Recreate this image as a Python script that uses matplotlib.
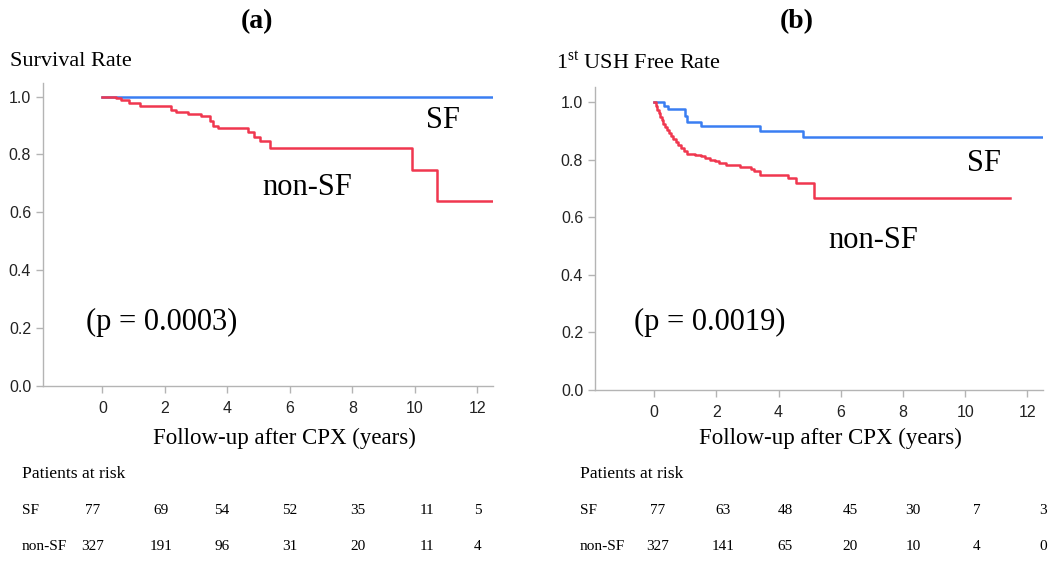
"""
Kaplan-Meier curves: SF vs non-SF, survival (a) and 1st USH free rate (b).
"""

import matplotlib
matplotlib.use("Agg")
import matplotlib.pyplot as plt

W, H = 1051, 561
SERIF = "Liberation Serif"
SANS = "Liberation Sans"
plt.rcParams["mathtext.fontset"] = "custom"
plt.rcParams["mathtext.rm"] = SERIF

BLUE = "#3A7EF2"
RED = "#F0374F"
GRAY = "#B4B4B4"

# ── data: panel (a) survival ─────────────────────────────────────────────────
a_sf_t = [0, 12.5]
a_sf_s = [1.0, 1.0]
a_non_t = [0, 0.45, 0.6, 0.85, 1.2, 2.2, 2.35, 2.75, 3.15, 3.45, 3.55, 3.7,
           4.65, 4.85, 5.05, 5.35, 9.9, 10.7, 12.5]
a_non_s = [1.0, 0.995, 0.987, 0.977, 0.968, 0.955, 0.947, 0.940, 0.933, 0.915,
           0.899, 0.891, 0.876, 0.862, 0.845, 0.822, 0.747, 0.640, 0.640]

# ── data: panel (b) 1st USH free ─────────────────────────────────────────────
b_sf_t = [0, 0.32, 0.45, 1.0, 1.05, 1.5, 3.4, 4.8, 12.5]
b_sf_s = [1.0, 0.987, 0.974, 0.952, 0.931, 0.916, 0.899, 0.879, 0.879]
b_non_t = [0, 0.05, 0.1, 0.15, 0.2, 0.25, 0.3, 0.35, 0.4, 0.47,
           0.55, 0.62, 0.7, 0.78, 0.87, 0.95, 1.05, 1.3, 1.5, 1.65,
           1.8, 1.95, 2.1, 2.3, 2.75, 3.1, 3.2, 3.4, 4.3, 4.55,
           5.15, 11.45]
b_non_s = [1.0, 0.985, 0.972, 0.96, 0.948, 0.936, 0.925, 0.914, 0.904, 0.893,
           0.882, 0.872, 0.861, 0.851, 0.840, 0.830, 0.821, 0.816, 0.812, 0.806,
           0.800, 0.794, 0.788, 0.780, 0.773, 0.768, 0.760, 0.746, 0.735, 0.718,
           0.668, 0.668]

# ── patients at risk ─────────────────────────────────────────────────────────
risk_groups = ["SF", "non-SF"]
a_risk_sf = [77, 69, 54, 52, 35, 11, 5]
a_risk_non = [327, 191, 96, 31, 20, 11, 4]
b_risk_sf = [77, 63, 48, 45, 30, 7, 3]
b_risk_non = [327, 141, 65, 20, 10, 4, 0]

x_ticks = [0, 2, 4, 6, 8, 10, 12]
y_ticks = [0.0, 0.2, 0.4, 0.6, 0.8, 1.0]

BIG = 22  # curve labels and p-values


def px(x, y):
    return x / W, 1 - y / H


def _km_axes(fig, rect, ytop):
    ax = fig.add_axes(rect)
    ax.set_xlim(-1.9, 12.5)
    ax.set_ylim(0, ytop)
    ax.set_xticks(x_ticks)
    ax.set_yticks(y_ticks)
    ax.set_yticklabels([f"{v:.1f}" for v in y_ticks])
    for s in ("top", "right"):
        ax.spines[s].set_visible(False)
    for s in ("left", "bottom"):
        ax.spines[s].set_color(GRAY)
        ax.spines[s].set_linewidth(1.0)
    ax.tick_params(color=GRAY, length=5, width=1, labelcolor="#222222",
                   labelsize=11.5)
    ax.tick_params(axis="x", pad=6)
    for lab in ax.get_xticklabels() + ax.get_yticklabels():
        lab.set_fontfamily(SANS)
    return ax


def _risk_table(fig, x0, cols, rows, y0):
    fig.text(*px(x0, y0), "Patients at risk", fontsize=12.6, family=SERIF,
             va="center", ha="left")
    for i, (name, vals) in enumerate(zip(risk_groups, rows)):
        y = y0 + 36 + 37 * i
        fig.text(*px(x0, y), name, fontsize=11, family=SERIF, va="center")
        for cx, v in zip(cols, vals):
            fig.text(*px(cx, y), str(v), fontsize=11, family=SERIF,
                     va="center", ha="center")


fig = plt.figure(figsize=(W / 100, H / 100), dpi=100)

# ── panel (a) ────────────────────────────────────────────────────────────────
ax_a = _km_axes(fig, [43 / W, 1 - 386 / H, 450 / W, 303 / H], 1.047)
ax_a.plot(a_sf_t, a_sf_s, drawstyle="steps-post", color=BLUE, lw=1.8)
ax_a.plot(a_non_t, a_non_s, drawstyle="steps-post", color=RED, lw=1.8)
ax_a.text(10.9, 0.916, "SF", fontsize=BIG, family=SERIF, ha="center", va="center")
ax_a.text(6.55, 0.687, "non-SF", fontsize=BIG, family=SERIF, ha="center", va="center")
ax_a.text(1.9, 0.22, "(p = 0.0003)", fontsize=BIG, family=SERIF, ha="center", va="center")

fig.text(*px(257, 22), "(a)", fontsize=20, fontweight="bold", family=SERIF,
         ha="center", va="center")
fig.text(*px(10, 62), "Survival Rate", fontsize=16, family=SERIF,
         ha="left", va="center")
fig.text(*px(284, 438), "Follow-up after CPX (years)", fontsize=16.5,
         family=SERIF, ha="center", va="center")
_risk_table(fig, 22, [93, 161, 222, 290, 358, 427, 478],
            [a_risk_sf, a_risk_non], 474)

# ── panel (b) ────────────────────────────────────────────────────────────────
ax_b = _km_axes(fig, [595 / W, 1 - 390 / H, 448 / W, 303 / H], 1.052)
ax_b.plot(b_sf_t, b_sf_s, drawstyle="steps-post", color=BLUE, lw=1.8)
ax_b.plot(b_non_t, b_non_s, drawstyle="steps-post", color=RED, lw=1.8)
ax_b.text(10.6, 0.788, "SF", fontsize=BIG, family=SERIF, ha="center", va="center")
ax_b.text(7.04, 0.518, "non-SF", fontsize=BIG, family=SERIF, ha="center", va="center")
ax_b.text(1.79, 0.233, "(p = 0.0019)", fontsize=BIG, family=SERIF, ha="center", va="center")

fig.text(*px(797, 22), "(b)", fontsize=20, fontweight="bold", family=SERIF,
         ha="center", va="center")
fig.text(*px(556, 62), r"1$^{\mathrm{st}}$ USH Free Rate", fontsize=16,
         family=SERIF, ha="left", va="center")
fig.text(*px(830, 438), "Follow-up after CPX (years)", fontsize=16.5,
         family=SERIF, ha="center", va="center")
_risk_table(fig, 580, [658, 723, 785, 850, 913, 977, 1043],
            [b_risk_sf, b_risk_non], 474)

fig.savefig("out.png", dpi=100, facecolor="white")
